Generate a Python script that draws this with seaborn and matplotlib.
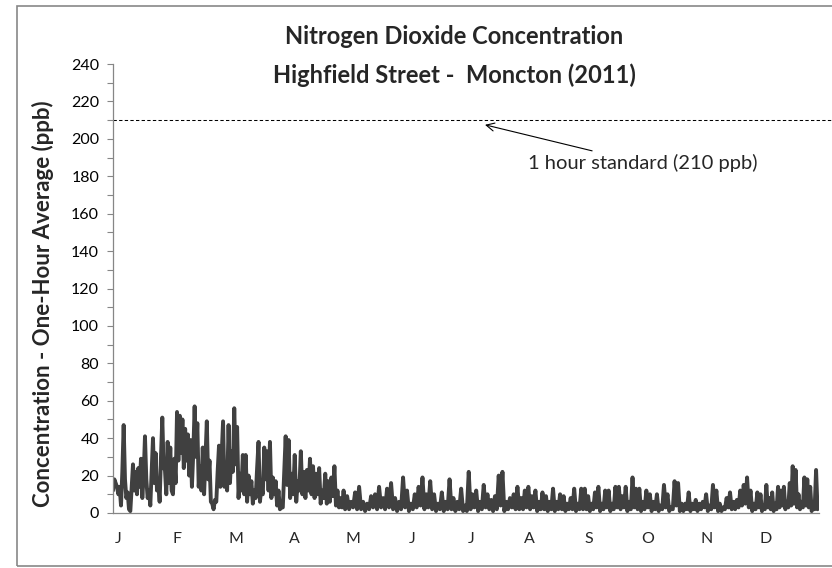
import numpy as np
import pandas as pd
import matplotlib
matplotlib.use("Agg")
import matplotlib.pyplot as plt
import seaborn as sns
from matplotlib.patches import Rectangle
from matplotlib.ticker import MultipleLocator

# ---- data: one-hour NO2 readings (ppb), per month ----
jan = [12, 18, 16, 14, 10, 14, 4, 22, 47, 18, 8, 11, 2, 1, 14, 26, 12, 22, 10, 24, 14, 29, 8, 20, 41, 18, 8, 12, 4, 22, 40, 16, 32, 12, 16, 6, 30, 51, 24, 23, 10, 38, 16, 35, 12]
feb = [10, 29, 16, 54, 28, 52, 32, 50, 24, 45, 28, 42, 20, 39, 14, 32, 57, 30, 48, 14, 25, 12, 35, 10, 30, 49, 18, 28, 6, 5, 2, 7, 6, 22, 36, 14, 32, 49, 14, 21]
mar = [12, 47, 16, 33, 22, 56, 26, 46, 8, 21, 12, 31, 10, 31, 6, 20, 10, 17, 5, 12, 8, 24, 38, 6, 14, 10, 35, 18, 33, 12, 38, 8, 19, 10, 17, 4, 12, 2, 3, 3, 22, 41]
apr = [15, 39, 8, 21, 10, 31, 6, 17, 12, 33, 10, 22, 8, 23, 12, 29, 10, 25, 8, 21, 10, 24, 5, 12, 8, 21, 5, 17, 6, 19, 9, 25, 4, 12, 3, 8, 3, 12]
may = [2, 9, 2, 6, 3, 11, 2, 14, 2, 6, 1, 5, 2, 9, 3, 10, 2, 14, 3, 8, 2, 13, 3, 16, 2, 8, 1, 6, 2, 19]
jun = [3, 12, 1, 5, 2, 10, 3, 14, 4, 19, 2, 10, 3, 17, 2, 10, 1, 5, 2, 11, 1, 6, 2, 18, 2, 8, 1, 6, 2, 13]
jul = [1, 4, 1, 22, 2, 10, 3, 12, 1, 6, 2, 15, 3, 10, 2, 7, 1, 9, 2, 20, 4, 22, 1, 6, 2, 8, 3, 10, 2, 14, 2, 8]
aug = [2, 12, 3, 14, 2, 9, 3, 12, 1, 6, 2, 11, 2, 9, 1, 6, 2, 13, 1, 6, 2, 10, 2, 9, 1, 5, 2, 8, 2, 13, 1, 5, 2, 13]
sep = [2, 13, 2, 9, 1, 5, 2, 11, 3, 14, 1, 5, 2, 12, 3, 12, 1, 5, 2, 14, 3, 14, 2, 9, 3, 14, 1, 6, 2, 19, 3, 13, 2, 13]
oct_ = [1, 6, 2, 12, 3, 10, 1, 6, 2, 10, 1, 4, 2, 15, 3, 10, 1, 3, 2, 17, 4, 16, 1, 5, 1, 5, 2, 11, 1, 5, 2, 7, 1, 5]
nov = [2, 6, 3, 10, 1, 4, 2, 15, 3, 12, 1, 5, 1, 3, 2, 8, 3, 11, 2, 6, 2, 7, 3, 12, 4, 15, 5, 19, 3, 12, 1, 5, 2, 11]
dec = [3, 10, 1, 4, 2, 15, 3, 8, 2, 11, 1, 5, 2, 14, 3, 12, 4, 14, 2, 6, 3, 16, 4, 25, 5, 23, 3, 10, 2, 6, 3, 19, 4, 18, 3, 14, 1, 3, 2, 23, 2]

months = [jan, feb, mar, apr, may, jun, jul, aug, sep, oct_, nov, dec]
month_days = [31, 28, 31, 30, 31, 30, 31, 31, 30, 31, 30, 31]
month_labels = ["J", "F", "M", "A", "M", "J", "J", "A", "S", "O", "N", "D"]
standard = 210

# ---- build hourly time axis ----
hours, values = [], []
start = 0
for vals, nd in zip(months, month_days):
    n_h = nd * 24
    t = np.linspace(start, start + n_h, len(vals), endpoint=False)
    hours.extend(t)
    values.extend(vals)
    start += n_h
df = pd.DataFrame({"hour": hours, "ppb": values})
total_hours = start

sns.set_theme(style="white")
plt.rcParams["font.family"] = ["Lato", "DejaVu Sans"]

fig = plt.figure(figsize=(8.32, 5.68), dpi=100)
ax = fig.add_axes([113/832, 1-513/568, (819-113)/832, (513-64)/568])

sns.lineplot(data=df, x="hour", y="ppb", ax=ax, color="#404040",
             linewidth=2.8, estimator=None, sort=False)

ax.set_xlim(0, total_hours)
ax.set_ylim(0, 240)
ax.yaxis.set_major_locator(MultipleLocator(20))
ax.yaxis.set_minor_locator(MultipleLocator(10))
ax.tick_params(axis="y", which="both", direction="out", length=4, width=0.8,
               color="#868686", left=True, labelsize=11.5, labelcolor="black", pad=6)
ax.set_xticks([k * 730 + 62 for k in range(12)])
ax.set_xticklabels(month_labels)
ax.tick_params(axis="x", length=0, labelsize=11.5, pad=14)

for s in ["top", "right"]:
    ax.spines[s].set_visible(False)
for s in ["left", "bottom"]:
    ax.spines[s].set_color("#868686")
    ax.spines[s].set_linewidth(0.9)

ax.set_xlabel("")
ax.set_ylabel("Concentration - One-Hour Average (ppb)", fontsize=16,
              fontweight="bold")
ax.yaxis.set_label_coords((54-113)/706, (513-304)/449)

# standard line
ax.axhline(standard, xmin=0, xmax=(840-113)/706, color="black", lw=0.75,
           ls=(0, (3.2, 2.2)), clip_on=False)
ax.annotate("1 hour standard (210 ppb)",
            xy=((485-113)/706*total_hours, standard - 2.5),
            xytext=((528-113)/706*total_hours, 187),
            fontsize=14.5, va="center", ha="left",
            arrowprops=dict(arrowstyle="->", color="black", lw=0.8,
                            shrinkA=0, shrinkB=0))

fig.text(454/832, 1-37/568, "Nitrogen Dioxide Concentration", ha="center",
         va="center", fontsize=17, fontweight="bold")
fig.text(454/832, 1-75/568, "Highfield Street -  Moncton (2011)", ha="center",
         va="center", fontsize=17, fontweight="bold")

fig.patches.append(Rectangle((17/832, 2/568), 1.0, 560/568, transform=fig.transFigure,
                             fill=False, edgecolor="#878787", lw=1.2))

fig.savefig("out.png", dpi=100)
